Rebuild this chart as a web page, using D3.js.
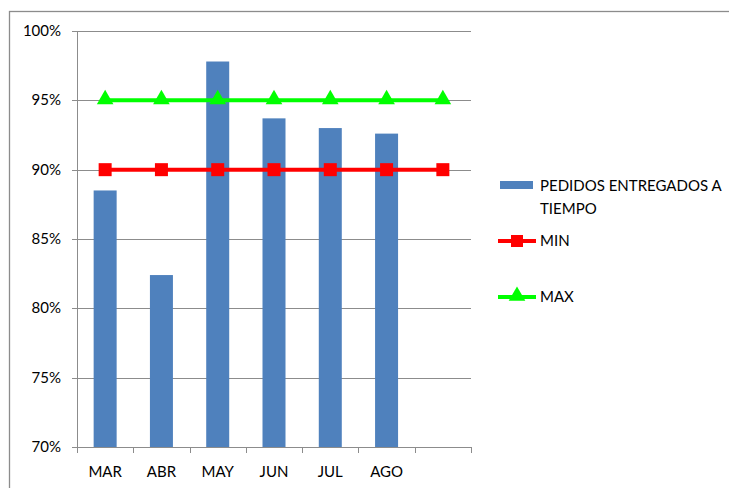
<!DOCTYPE html>
<html>
<head>
<meta charset="utf-8">
<script src="https://cdn.jsdelivr.net/npm/d3@7"></script>
<style>
  body { margin: 0; background: #fff; }
  text { font-family: Lato, sans-serif; fill: #000; font-size: 15px; }
</style>
</head>
<body>
<div class="chart"></div>
<script>
// Data
var months = ['MAR', 'ABR', 'MAY', 'JUN', 'JUL', 'AGO', ''];
var delivered = [88.5, 82.4, 97.8, 93.7, 93.0, 92.6];
var minValues = [90, 90, 90, 90, 90, 90, 90];
var maxValues = [95, 95, 95, 95, 95, 95, 95];
var yTicks = [70, 75, 80, 85, 90, 95, 100];

var width = 729;
var height = 488;
var plot = { left: 77, right: 471, top: 31, bottom: 447 };

var svg = d3.select('.chart')
            .append('svg')
            .attr('width', width)
            .attr('height', height);

// outer frame
svg.append('rect')
   .attr('x', 9.5).attr('y', 11.5)
   .attr('width', 740).attr('height', 500)
   .style('fill', 'none')
   .style('stroke', '#8c8c8c')
   .style('stroke-width', 1.3);

var xScale = d3.scaleBand()
               .domain(d3.range(months.length))
               .range([plot.left, plot.right]);

var yScale = d3.scaleLinear()
               .domain([70, 100])
               .range([plot.bottom, plot.top]);

// gridlines
svg.selectAll('.grid')
   .data(yTicks)
   .enter()
   .append('line')
   .attr('x1', plot.left - 5)
   .attr('x2', plot.right)
   .attr('y1', function(d) { return Math.round(yScale(d)) + 0.5; })
   .attr('y2', function(d) { return Math.round(yScale(d)) + 0.5; })
   .style('stroke', '#8c8c8c')
   .style('stroke-width', 1);

// y axis line
svg.append('line')
   .attr('x1', plot.left + 0.5).attr('x2', plot.left + 0.5)
   .attr('y1', plot.top).attr('y2', plot.bottom)
   .style('stroke', '#8c8c8c');

svg.selectAll('.ylab')
   .data(yTicks)
   .enter()
   .append('text')
   .attr('x', 61)
   .attr('y', function(d) { return yScale(d) + 5; })
   .style('text-anchor', 'end')
   .text(function(d) { return d + '%'; });

// x ticks
var xTickPos = d3.range(months.length + 1).map(function(i) {
  return i < months.length ? xScale(i) : xScale(months.length - 1) + xScale.bandwidth();
});
svg.selectAll('.xtick')
   .data(xTickPos)
   .enter()
   .append('line')
   .attr('x1', function(d) { return Math.round(d) + 0.5; })
   .attr('x2', function(d) { return Math.round(d) + 0.5; })
   .attr('y1', plot.bottom)
   .attr('y2', plot.bottom + 6)
   .style('stroke', '#8c8c8c');

svg.selectAll('.xlab')
   .data(months)
   .enter()
   .append('text')
   .attr('x', function(d, i) { return xScale(i) + xScale.bandwidth() / 2; })
   .attr('y', 477)
   .style('text-anchor', 'middle')
   .text(function(d) { return d; });

// bars
var barW = 23;
svg.selectAll('.bar')
   .data(delivered)
   .enter()
   .append('rect')
   .attr('x', function(d, i) { return xScale(i) + xScale.bandwidth() / 2 - barW / 2; })
   .attr('y', function(d) { return yScale(d); })
   .attr('width', barW)
   .attr('height', function(d) { return plot.bottom - yScale(d); })
   .style('fill', '#4f81bd');

// x axis line on top of bars
svg.append('line')
   .attr('x1', plot.left).attr('x2', plot.right)
   .attr('y1', plot.bottom + 0.5).attr('y2', plot.bottom + 0.5)
   .style('stroke', '#8c8c8c');

var line = d3.line()
             .x(function(d, i) { return xScale(i) + xScale.bandwidth() / 2; })
             .y(function(d) { return yScale(d); });

// MIN line
svg.append('path')
   .attr('d', line(minValues))
   .style('fill', 'none')
   .style('stroke', '#ff0000')
   .style('stroke-width', 4);

svg.selectAll('.minmark')
   .data(minValues)
   .enter()
   .append('rect')
   .attr('x', function(d, i) { return xScale(i) + xScale.bandwidth() / 2 - 6.5; })
   .attr('y', function(d) { return yScale(d) - 6.5; })
   .attr('width', 13).attr('height', 13)
   .style('fill', '#ff0000');

// MAX line
svg.append('path')
   .attr('d', line(maxValues))
   .style('fill', 'none')
   .style('stroke', '#00ff00')
   .style('stroke-width', 4);

var tri = d3.symbol().type(d3.symbolTriangle).size(120);
svg.selectAll('.maxmark')
   .data(maxValues)
   .enter()
   .append('path')
   .attr('d', tri)
   .attr('transform', function(d, i) {
     return 'translate(' + (xScale(i) + xScale.bandwidth() / 2) + ',' + (yScale(d) - 1) + ')';
   })
   .style('fill', '#00ff00');

// legend
var legend = svg.append('g');
legend.append('rect')
      .attr('x', 500).attr('y', 181)
      .attr('width', 33).attr('height', 8)
      .style('fill', '#4f81bd');
legend.append('text')
      .attr('x', 540).attr('y', 191)
      .text('PEDIDOS ENTREGADOS A');
legend.append('text')
      .attr('x', 540).attr('y', 214)
      .text('TIEMPO');

legend.append('line')
      .attr('x1', 498).attr('x2', 536)
      .attr('y1', 241).attr('y2', 241)
      .style('stroke', '#ff0000').style('stroke-width', 4);
legend.append('rect')
      .attr('x', 511).attr('y', 235)
      .attr('width', 12).attr('height', 12)
      .style('fill', '#ff0000');
legend.append('text')
      .attr('x', 540).attr('y', 246)
      .text('MIN');

legend.append('line')
      .attr('x1', 498).attr('x2', 536)
      .attr('y1', 297).attr('y2', 297)
      .style('stroke', '#00ff00').style('stroke-width', 4);
legend.append('path')
      .attr('d', tri)
      .attr('transform', 'translate(517,296)')
      .style('fill', '#00ff00');
legend.append('text')
      .attr('x', 540).attr('y', 302)
      .text('MAX');
</script>
</body>
</html>
